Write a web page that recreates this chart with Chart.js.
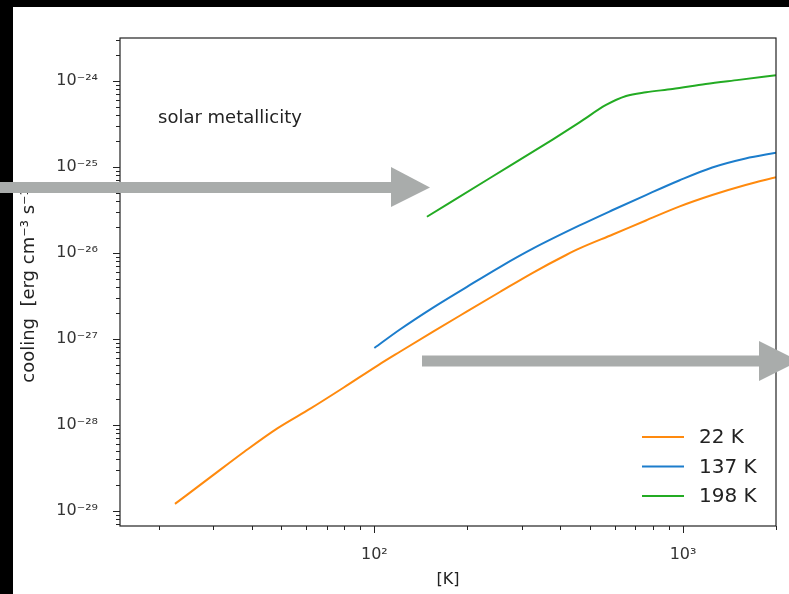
<!DOCTYPE html>
<html>
<head>
<meta charset="utf-8">
<script src="https://cdn.jsdelivr.net/npm/chart.js@4.4.1/dist/chart.umd.min.js"></script>
<style>
  html, body { margin: 0; padding: 0; background: #fff; }
  canvas { display: block; }
</style>
</head>
<body>
<canvas id="coolChart" width="789" height="594"></canvas>
<script>
// temperatures [K] and cooling rates
var seriesLabels = ["22 K", "137 K", "198 K"];
var seriesColors = ["#ff8a0e", "#1c7dcc", "#23ab23"];

var tempOrange = [22.6, 29.6, 37.9, 48.5, 62.2, 79.6, 103, 121, 155, 199, 255, 327, 418, 462, 592, 758, 971, 1243, 1594, 2000];
var coolOrange = [1.21e-29, 2.51e-29, 4.89e-29, 9.15e-29, 1.56e-28, 2.73e-28, 4.98e-28, 7.11e-28, 1.22e-27, 2.08e-27,
  3.52e-27, 5.93e-27, 9.48e-27, 1.13e-26, 1.64e-26, 2.39e-26, 3.46e-26, 4.72e-26, 6.18e-26, 7.59e-26];

var tempBlue = [100, 121, 155, 199, 255, 327, 462, 592, 758, 971, 1243, 1594, 2000];
var coolBlue = [7.86e-28, 1.29e-27, 2.32e-27, 4.02e-27, 6.87e-27, 1.13e-26, 2.09e-26, 3.16e-26, 4.72e-26, 6.97e-26,
  9.87e-26, 1.256e-25, 1.466e-25];

var tempGreen = [148, 237, 379, 462, 563, 654, 758, 924, 1184, 1516, 2000];
var coolGreen = [2.64e-26, 7.45e-26, 2.10e-25, 3.30e-25, 5.26e-25, 6.69e-25, 7.39e-25, 8.07e-25, 9.23e-25, 1.03e-24, 1.165e-24];

// tick decades
var xDecades = [1, 2, 3];
var yDecades = [-30, -29, -28, -27, -26, -25, -24];

var sup = {"-": "\u207b", "0": "\u2070", "1": "\u00b9", "2": "\u00b2", "3": "\u00b3", "4": "\u2074",
  "5": "\u2075", "6": "\u2076", "7": "\u2077", "8": "\u2078", "9": "\u2079"};

function isDecade(v) {
  var e = Math.log10(v);
  return Math.abs(e - Math.round(e)) < 1e-9;
}
function decadeLabel(v) {
  if (!isDecade(v)) return "";
  var e = String(Math.round(Math.log10(v)));
  var s = "10";
  for (var i = 0; i < e.length; i++) s += sup[e[i]];
  return s;
}
function logTicks(decades) {
  return function (scale) {
    var t = [];
    decades.forEach(function (e) {
      for (var m = 1; m <= 9; m++) {
        var v = Number(m + "e" + e);
        if (v >= scale.min * 0.9999 && v <= scale.max * 1.0001) t.push({ value: v });
      }
    });
    scale.ticks = t;
  };
}
function pts(xs, ys) {
  return xs.map(function (x, i) { return { x: x, y: ys[i] }; });
}

var extras = {
  id: "extras",
  beforeDraw: function (chart) {
    var c = chart.ctx;
    c.save();
    c.fillStyle = "#fff";
    c.fillRect(0, 0, chart.width, chart.height);
    c.restore();
  },
  afterDraw: function (chart) {
    var c = chart.ctx, a = chart.chartArea;
    var xs = chart.scales.x, ys = chart.scales.y;
    c.save();
    // black edges of the screenshot
    c.fillStyle = "#000";
    c.fillRect(0, 0, chart.width, 7);
    c.fillRect(0, 0, 13, chart.height);

    // frame
    c.strokeStyle = "#222";
    c.lineWidth = 1.2;
    c.strokeRect(a.left, a.top, a.right - a.left, a.bottom - a.top);

    // tick marks, long on decades
    c.strokeStyle = "#222";
    c.lineWidth = 1;
    c.beginPath();
    xs.ticks.forEach(function (t) {
      var px = Math.round(xs.getPixelForValue(t.value)) + 0.5;
      var len = isDecade(t.value) ? 7 : 4;
      c.moveTo(px, a.bottom);
      c.lineTo(px, a.bottom + len);
    });
    ys.ticks.forEach(function (t) {
      var py = Math.round(ys.getPixelForValue(t.value)) + 0.5;
      var len = isDecade(t.value) ? 7 : 4;
      c.moveTo(a.left, py);
      c.lineTo(a.left - len, py);
    });
    c.stroke();

    // note
    c.fillStyle = "#222";
    c.font = "18px 'DejaVu Sans'";
    c.textBaseline = "middle";
    c.textAlign = "left";
    c.fillText("solar metallicity", 158, 118);

    // legend
    c.font = "20px 'DejaVu Sans'";
    chart.data.datasets.forEach(function (ds, i) {
      var y = 437 + i * 29.5;
      c.strokeStyle = ds.borderColor;
      c.lineWidth = 2;
      c.beginPath();
      c.moveTo(642, y);
      c.lineTo(684, y);
      c.stroke();
      c.fillStyle = "#222";
      c.fillText(ds.label, 699, y + 1);
    });

    // grey arrows on top
    c.fillStyle = "#a9acab";
    c.fillRect(0, 182, 392, 11);
    c.beginPath();
    c.moveTo(391, 167);
    c.lineTo(430, 187.5);
    c.lineTo(391, 207);
    c.closePath();
    c.fill();
    c.fillRect(422, 355.5, 338, 11);
    c.beginPath();
    c.moveTo(759, 341);
    c.lineTo(799, 361);
    c.lineTo(759, 381);
    c.closePath();
    c.fill();
    c.restore();
  }
};

var tickFont = { family: "DejaVu Sans", size: 16 };

new Chart(document.getElementById("coolChart").getContext("2d"), {
  type: "line",
  data: {
    datasets: [
      { label: seriesLabels[0], data: pts(tempOrange, coolOrange), borderColor: seriesColors[0] },
      { label: seriesLabels[1], data: pts(tempBlue, coolBlue), borderColor: seriesColors[1] },
      { label: seriesLabels[2], data: pts(tempGreen, coolGreen), borderColor: seriesColors[2] }
    ]
  },
  options: {
    responsive: false,
    animation: false,
    devicePixelRatio: 1,
    layout: { padding: { top: 38, right: 13, left: 0, bottom: 0 } },
    elements: {
      line: { borderWidth: 2, fill: false, cubicInterpolationMode: "monotone" },
      point: { radius: 0 }
    },
    plugins: {
      legend: { display: false },
      tooltip: { enabled: false }
    },
    scales: {
      x: {
        type: "logarithmic",
        min: 15,
        max: 2000,
        grid: { display: false },
        border: { display: false },
        afterBuildTicks: logTicks(xDecades),
        afterFit: function (s) { s.height = 68; },
        ticks: { autoSkip: false, maxRotation: 0, padding: 11, color: "#333", font: tickFont, callback: decadeLabel },
        title: { display: true, text: "[K]", color: "#222", font: { family: "DejaVu Sans", size: 16 }, padding: { top: 0, bottom: 5 } }
      },
      y: {
        type: "logarithmic",
        min: 6.7e-30,
        max: 3.16e-24,
        grid: { display: false },
        border: { display: false },
        afterBuildTicks: logTicks(yDecades),
        afterFit: function (s) { s.width = 120; },
        ticks: { autoSkip: false, padding: 14, color: "#333", font: tickFont, callback: decadeLabel },
        title: { display: true, text: "cooling  [erg cm\u207b\u00b3 s\u207b\u00b9]", color: "#222", font: { family: "DejaVu Sans", size: 18 }, padding: { top: 19, bottom: 0 } }
      }
    }
  },
  plugins: [extras]
});
</script>
</body>
</html>
